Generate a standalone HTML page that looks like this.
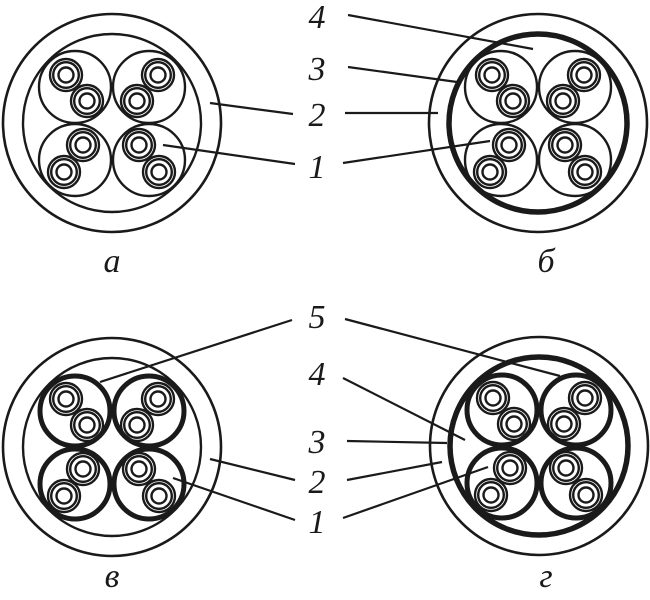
<!DOCTYPE html>
<html><head><meta charset="utf-8"><style>html,body{margin:0;padding:0;background:#fff}svg{display:block}</style></head>
<body>
<svg width="650" height="600" viewBox="0 0 650 600" xmlns="http://www.w3.org/2000/svg">
<defs>
<g id="c" fill="none" stroke="#1a1a1a" stroke-width="2.4">
  <circle r="16"/><circle r="12.8"/><circle r="7.5"/>
</g>
<g id="pairs">
  <use href="#c" x="-46" y="-48"/><use href="#c" x="-25" y="-22"/>
  <use href="#c" x="46" y="-48"/><use href="#c" x="25" y="-22"/>
  <use href="#c" x="-29" y="22"/><use href="#c" x="-48" y="49"/>
  <use href="#c" x="27" y="22"/><use href="#c" x="47" y="49"/>
</g>
<g id="qthin" fill="none" stroke="#1a1a1a" stroke-width="2.4">
  <circle cx="-37" cy="-36" r="36"/><circle cx="37" cy="-36" r="36"/>
  <circle cx="-37" cy="37" r="36"/><circle cx="37" cy="37" r="36"/>
</g>
<g id="qthick" fill="none" stroke="#1a1a1a" stroke-width="5">
  <circle cx="-37" cy="-36" r="35"/><circle cx="37" cy="-36" r="35"/>
  <circle cx="-37" cy="37" r="35"/><circle cx="37" cy="37" r="35"/>
</g>
</defs>

<g transform="translate(112,123)">
  <circle r="109" fill="none" stroke="#1a1a1a" stroke-width="2.6"/>
  <circle r="89" fill="none" stroke="#1a1a1a" stroke-width="2.4"/>
  <use href="#qthin"/><use href="#pairs"/>
</g>
<g transform="translate(538,123)">
  <circle r="109" fill="none" stroke="#1a1a1a" stroke-width="2.6"/>
  <circle r="89" fill="none" stroke="#1a1a1a" stroke-width="5.5"/>
  <use href="#qthin"/><use href="#pairs"/>
</g>
<g transform="translate(112,447)">
  <circle r="109" fill="none" stroke="#1a1a1a" stroke-width="2.6"/>
  <circle r="89" fill="none" stroke="#1a1a1a" stroke-width="2.4"/>
  <use href="#qthick"/><use href="#pairs"/>
</g>
<g transform="translate(539,446)">
  <circle r="109" fill="none" stroke="#1a1a1a" stroke-width="2.6"/>
  <circle r="89" fill="none" stroke="#1a1a1a" stroke-width="5.5"/>
  <use href="#qthick"/><use href="#pairs"/>
</g>

<g stroke="#1a1a1a" stroke-width="2.2" fill="none">
  <line x1="348" y1="15" x2="533" y2="49"/>
  <line x1="348" y1="67" x2="457" y2="82"/>
  <line x1="345" y1="113" x2="438" y2="113"/>
  <line x1="210" y1="103" x2="293" y2="114"/>
  <line x1="163" y1="145" x2="295" y2="164"/>
  <line x1="343" y1="163" x2="490" y2="141"/>

  <line x1="292" y1="320" x2="100" y2="382"/>
  <line x1="345" y1="319" x2="560" y2="376"/>
  <line x1="343" y1="378" x2="465" y2="440"/>
  <line x1="347" y1="441" x2="447" y2="443"/>
  <line x1="347" y1="480" x2="442" y2="462"/>
  <line x1="210" y1="459" x2="295" y2="480"/>
  <line x1="173" y1="478" x2="295" y2="520"/>
  <line x1="343" y1="518" x2="488" y2="467"/>
</g>

<g font-family="Liberation Serif, serif" font-style="italic" font-size="34" fill="#1a1a1a" text-anchor="middle">
  <text x="317" y="28">4</text>
  <text x="317" y="80">3</text>
  <text x="317" y="126">2</text>
  <text x="317" y="178">1</text>
  <text x="317" y="328">5</text>
  <text x="317" y="385">4</text>
  <text x="317" y="453">3</text>
  <text x="317" y="493">2</text>
  <text x="317" y="533">1</text>
  <text x="112" y="272">а</text>
  <text x="546" y="272">б</text>
  <text x="112" y="587">в</text>
  <text x="546" y="587">г</text>
</g>
</svg>
</body></html>
